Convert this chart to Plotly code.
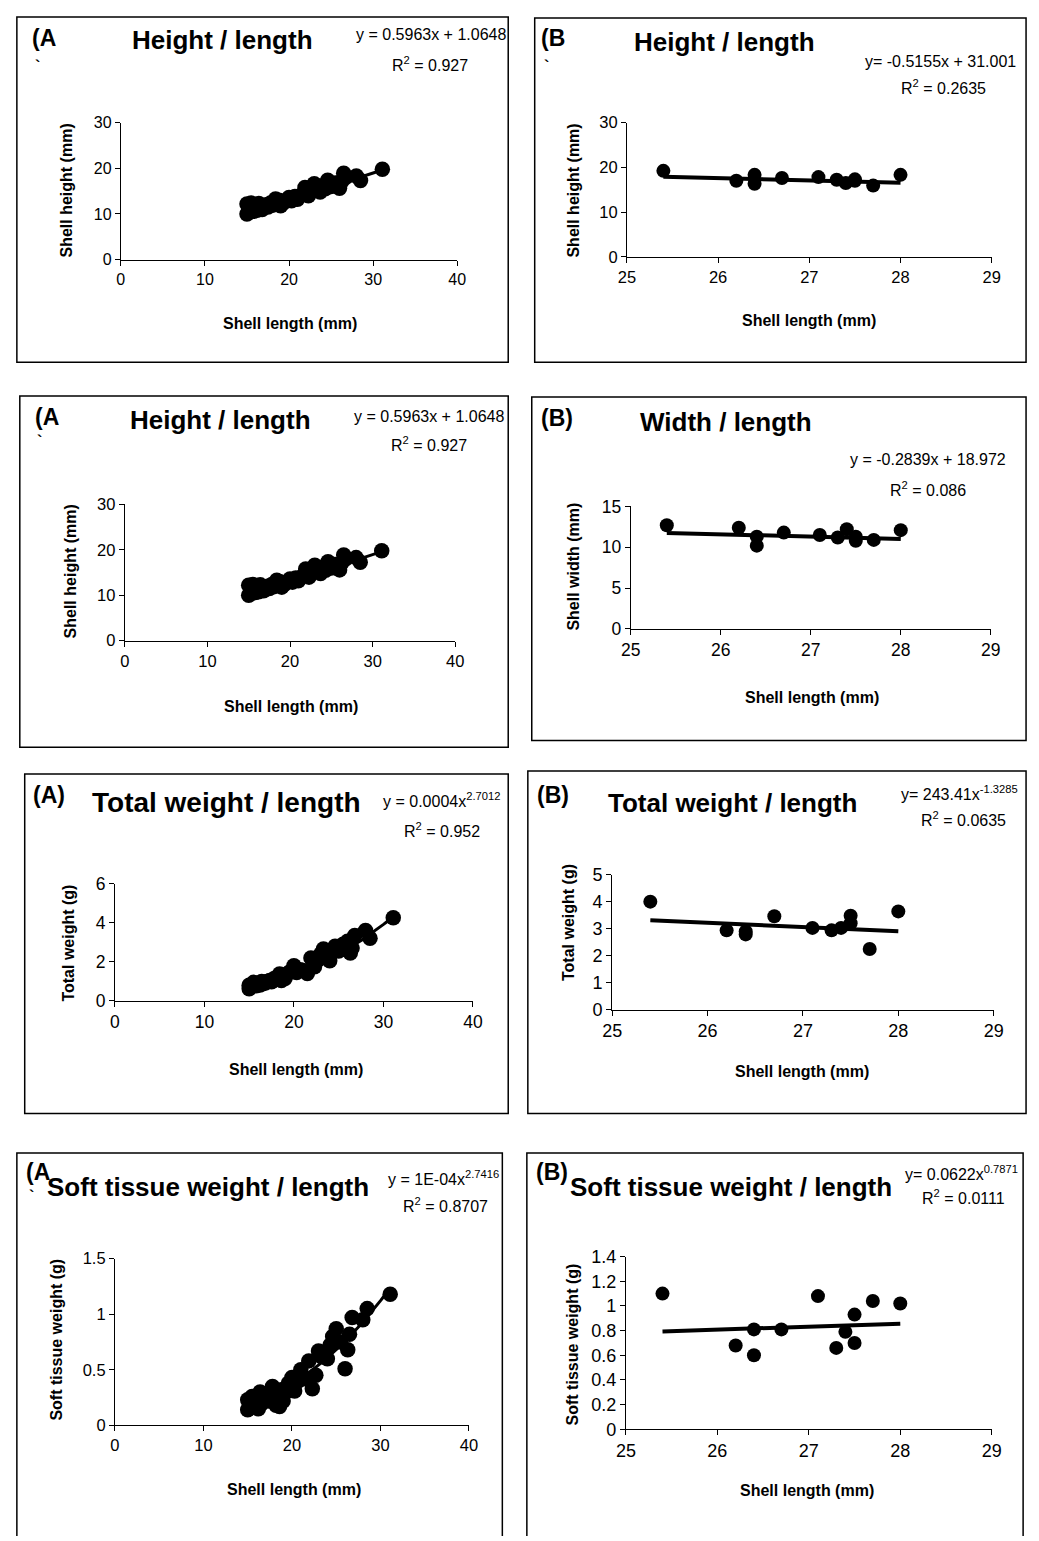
import numpy as np
import plotly.graph_objects as go

W, H = 1039, 1541

# ---------------- data ----------------
len_a = [15.0, 15.0, 15.2, 15.3, 15.5, 15.8, 16.0, 16.2, 16.4, 16.5, 16.8, 17.0, 17.3, 17.5,
         17.8, 18.0, 18.2, 18.4, 18.6, 18.8, 19.0, 19.3, 19.6, 20.0, 20.3, 20.7, 21.0, 21.5,
         21.9, 22.3, 22.7, 23.0, 23.3, 23.7, 24.0, 24.3, 24.6, 25.0, 25.5, 26.0, 26.3, 26.5,
         26.8, 28.0, 28.5, 31.1]
height_a = [10.0, 12.2, 10.3, 11.5, 12.4, 10.6, 11.8, 10.8, 12.3, 11.2, 11.0, 11.6, 12.0, 11.5,
            12.4, 11.9, 12.6, 13.3, 12.1, 13.0, 11.8, 12.4, 12.9, 13.6, 12.9, 13.8, 13.2, 14.2,
            15.8, 14.0, 15.1, 16.6, 15.9, 14.8, 16.2, 15.5, 17.4, 16.0, 16.8, 15.6, 17.2, 18.9,
            18.1, 18.3, 17.3, 19.8]
totw_a = [0.80, 0.62, 0.72, 0.85, 0.95, 0.78, 0.90, 0.82, 1.00, 0.88, 0.92, 1.00, 1.05, 0.98,
          1.15, 1.10, 1.20, 1.38, 1.05, 1.30, 1.15, 1.40, 1.50, 1.80, 1.45, 1.60, 1.55, 1.40,
          2.20, 1.75, 2.10, 2.40, 2.65, 2.30, 2.05, 2.60, 2.80, 2.55, 2.90, 3.05, 2.45, 2.70,
          3.35, 3.60, 3.20, 4.25]
soft_a = [0.23, 0.14, 0.18, 0.20, 0.26, 0.17, 0.22, 0.15, 0.30, 0.19, 0.24, 0.27, 0.22, 0.30,
          0.35, 0.28, 0.18, 0.25, 0.17, 0.32, 0.22, 0.30, 0.38, 0.43, 0.31, 0.40, 0.50, 0.42,
          0.58, 0.33, 0.45, 0.67, 0.62, 0.66, 0.60, 0.72, 0.80, 0.87, 0.75, 0.51, 0.68, 0.82,
          0.97, 0.95, 1.05, 1.18]

len_b = [25.4, 26.2, 26.4, 26.4, 26.7, 27.1, 27.3, 27.4, 27.5, 27.5, 27.7, 28.0]
height_b = [19.2, 17.0, 18.3, 16.3, 17.6, 17.8, 17.2, 16.5, 17.3, 17.0, 15.9, 18.3]
width_b = [12.7, 12.4, 11.3, 10.2, 11.8, 11.5, 11.2, 12.2, 11.3, 10.8, 10.9, 12.1]
totw_b = [4.00, 2.94, 2.90, 2.79, 3.46, 3.03, 2.94, 3.03, 3.48, 3.20, 2.25, 3.64]
soft_b = [1.10, 0.68, 0.81, 0.60, 0.81, 1.08, 0.66, 0.79, 0.93, 0.70, 1.04, 1.02]

# fitted trend coefficients (as printed on the chart)
lin_height_a = (0.5963, 1.0648)
lin_height_b = (-0.5155, 31.001)
lin_width_b = (-0.2839, 18.972)
pow_totw_a = (0.0004, 2.7012)
pow_totw_b = (243.41, -1.3285)
pow_soft_a = (1e-4, 2.7416)
pow_soft_b = (0.0622, 0.7871)

FONT = "Liberation Sans, Arial, sans-serif"


def px(x):
    return x / W


def py(y):
    return 1 - y / H


panels = [
    dict(x=len_a, y=height_a, kind="lin", c=lin_height_a, xr=[0, 40], xd=10, yr=[0, 30], yd=10,
         box=(113, 456, 253, 114), tf=16, lw=3, ms=15.5),
    dict(x=len_b, y=height_b, kind="lin", c=lin_height_b, xr=[25, 29], xd=1, yr=[0, 30], yd=10,
         box=(629, 1001, 250, 114), tf=16.5, lw=4, ms=14),
    dict(x=len_a, y=height_a, kind="lin", c=lin_height_a, xr=[0, 40], xd=10, yr=[0, 30], yd=10,
         box=(117, 454, 639, 501), tf=16.5, lw=3, ms=15.5),
    dict(x=len_b, y=width_b, kind="lin", c=lin_width_b, xr=[25, 29], xd=1, yr=[0, 15], yd=5,
         box=(633, 1000, 627, 503), tf=17.5, lw=4, ms=14),
    dict(x=len_a, y=totw_a, kind="pow", c=pow_totw_a, xr=[0, 40], xd=10, yr=[0, 6], yd=2,
         box=(107, 472, 1004, 885), tf=17.5, lw=3, ms=15.5),
    dict(x=len_b, y=totw_b, kind="pow", c=pow_totw_b, xr=[25, 29], xd=1, yr=[0, 5], yd=1,
         box=(614, 1003, 1013, 876), tf=18, lw=4, ms=14),
    dict(x=len_a, y=soft_a, kind="pow", c=pow_soft_a, xr=[0, 40], xd=10, yr=[0, 1.5], yd=0.5,
         box=(107, 468, 1434, 1265), tf=16.5, lw=3, ms=15.5),
    dict(x=len_b, y=soft_b, kind="pow", c=pow_soft_b, xr=[25, 29], xd=1, yr=[0, 1.4], yd=0.2,
         box=(628, 1001, 1438, 1263), tf=18, lw=4, ms=14),
]

fig = go.Figure()
layout = {}
for i, p in enumerate(panels, start=1):
    xa = "x" if i == 1 else f"x{i}"
    ya = "y" if i == 1 else f"y{i}"
    x0, x1, yb, yt = p["box"]
    xs = np.array(p["x"], dtype=float)
    tx = np.linspace(xs.min(), xs.max(), 60)
    a, b = p["c"]
    if p["kind"] == "lin":
        ty = a * tx + b
    else:
        ty = a * tx ** b
    fig.add_trace(go.Scatter(x=tx, y=ty, mode="lines", xaxis=xa, yaxis=ya,
                             line=dict(color="black", width=p["lw"]), showlegend=False,
                             hoverinfo="skip"))
    fig.add_trace(go.Scatter(x=p["x"], y=p["y"], mode="markers", xaxis=xa, yaxis=ya,
                             marker=dict(color="black", size=p["ms"]), showlegend=False,
                             cliponaxis=False))
    common = dict(showgrid=False, zeroline=False, showline=True, linecolor="black", linewidth=1,
                  ticks="outside", ticklen=5, tickcolor="black", tickwidth=1,
                  tickfont=dict(family=FONT, size=p["tf"], color="black"), fixedrange=True)
    layout["xaxis" if i == 1 else f"xaxis{i}"] = dict(
        domain=[px(x0), px(x1)], range=p["xr"], dtick=p["xd"], tick0=0,
        anchor=ya, **common)
    layout["yaxis" if i == 1 else f"yaxis{i}"] = dict(
        domain=[py(yb), py(yt)], range=p["yr"], dtick=p["yd"], tick0=0,
        anchor=xa, **common)

fig.update_layout(**layout)

# panel borders
borders = [(7, 7, 508, 357), (535, 8, 1036, 357), (10, 391, 508, 747), (532, 392, 1036, 740),
           (15, 774, 508, 1118), (528, 771, 1036, 1118)]
shapes = []
for (l, t, r, b) in borders:
    shapes.append(dict(type="rect", xref="paper", yref="paper", x0=px(l), x1=px(r), y0=py(b), y1=py(t),
                       line=dict(color="black", width=1.5), fillcolor="rgba(0,0,0,0)"))
for (l, t, r) in [(7, 1158, 502), (527, 1158, 1033)]:
    shapes.append(dict(type="path", xref="paper", yref="paper",
                       path=f"M {px(l)},{py(H + 5)} L {px(l)},{py(t)} L {px(r)},{py(t)} L {px(r)},{py(H + 5)}",
                       line=dict(color="black", width=1.5)))
fig.update_layout(shapes=shapes)

ann = []


def text(s, x, y, size, bold=False, xanchor="center", angle=0):
    if bold:
        s = f"<b>{s}</b>"
    ann.append(dict(text=s, x=px(x), y=py(y), xref="paper", yref="paper", showarrow=False,
                    xanchor=xanchor, yanchor="middle", textangle=angle,
                    font=dict(family=FONT, size=size, color="black")))


TS = 26
ES = 16
LS = 16
AS = 23
# Panel 1
text("(A", 20, 28, AS, True, "left"); text("`", 23, 57, 16, True, "left")
text("Height / length", 217, 30, TS, True)
text("y = 0.5963x + 1.0648", 429, 25, ES)
text("R<sup>2</sup> = 0.927", 428, 55, ES)
text("Shell length (mm)", 285, 318, LS, True)
text("Shell height (mm)", 58, 183, LS, True, angle=-90)
# Panel 2
text("(B", 539, 28, AS, True, "left"); text("`", 542, 57, 16, True, "left")
text("Height / length", 729, 32, TS, True)
text("y= -0.5155x + 31.001", 949, 52, ES)
text("R<sup>2</sup> = 0.2635", 952, 78, ES)
text("Shell length (mm)", 815, 315, LS, True)
text("Shell height (mm)", 575, 183, LS, True, angle=-90)
# Panel 3
text("(A", 23, 412, AS, True, "left"); text("`", 26, 437, 16, True, "left")
text("Height / length", 215, 415, TS, True)
text("y = 0.5963x + 1.0648", 427, 412, ES)
text("R<sup>2</sup> = 0.927", 427, 440, ES)
text("Shell length (mm)", 287, 706, LS, True)
text("Shell height (mm)", 62, 569, LS, True, angle=-90)
# Panel 4
text("(B)", 539, 413, AS, True, "left")
text("Width / length", 730, 417, TS, True)
text("y = -0.2839x + 18.972", 936, 455, ES)
text("R<sup>2</sup> = 0.086", 936, 485, ES)
text("Shell length (mm)", 818, 697, LS, True)
text("Shell width (mm)", 575, 564, LS, True, angle=-90)
# Panel 5
text("(A)", 21, 795, AS, True, "left")
text("Total weight / length", 221, 803, 28, True)
text("y = 0.0004x<sup>2.7012</sup>", 440, 800, ES)
text("R<sup>2</sup> = 0.952", 440, 831, ES)
text("Shell length (mm)", 292, 1073, LS, True)
text("Total weight (g)", 60, 945, LS, True, angle=-90)
# Panel 6
text("(B)", 535, 795, AS, True, "left")
text("Total weight / length", 737, 803, TS, True)
text("y= 243.41x<sup>-1.3285</sup>", 968, 793, ES)
text("R<sup>2</sup> = 0.0635", 972, 820, ES)
text("Shell length (mm)", 808, 1075, LS, True)
text("Total weight (g)", 570, 925, LS, True, angle=-90)
# Panel 7
text("(A", 14, 1177, AS, True, "left"); text("`", 17, 1202, 16, True, "left")
text("Soft tissue weight / length", 202, 1192, TS, True)
text("y = 1E-04x<sup>2.7416</sup>", 442, 1183, ES)
text("R<sup>2</sup> = 0.8707", 444, 1211, ES)
text("Shell length (mm)", 290, 1499, LS, True)
text("Soft tissue weight (g)", 47, 1347, LS, True, angle=-90)
# Panel 8
text("(B)", 534, 1177, AS, True, "left")
text("Soft tissue weight / length", 735, 1192, TS, True)
text("y= 0.0622x<sup>0.7871</sup>", 970, 1178, ES)
text("R<sup>2</sup> = 0.0111", 972, 1203, ES)
text("Shell length (mm)", 813, 1500, LS, True)
text("Soft tissue weight (g)", 573, 1352, LS, True, angle=-90)

fig.update_layout(annotations=ann, width=W, height=H, margin=dict(l=0, r=0, t=0, b=0),
                  paper_bgcolor="white", plot_bgcolor="white", showlegend=False,
                  font=dict(family=FONT, color="black"))

fig.write_html("out.html", config={"displayModeBar": False},
               post_script="document.body.style.margin='0';document.body.style.overflow='hidden';")
